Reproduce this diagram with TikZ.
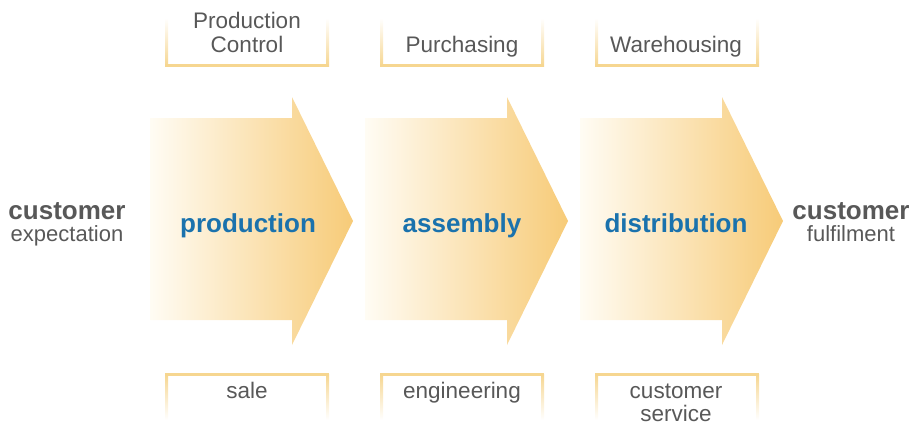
\documentclass[tikz,border=0pt]{standalone}
\usepackage{fontspec}
\setmainfont{Liberation Sans}
\begin{document}
\begin{tikzpicture}[x=1pt,y=-1pt,
  stage/.style={font=\fontsize{26}{28}\selectfont\bfseries, text=blueT, inner sep=0pt, anchor=base},
  dept/.style={font=\fontsize{22.5}{24}\selectfont, text=greyT, inner sep=0pt, anchor=base},
  endbold/.style={font=\fontsize{26}{28}\selectfont\bfseries, text=greyT, inner sep=0pt, anchor=base},
  endsub/.style={font=\fontsize{22}{24}\selectfont, text=greyT, inner sep=0pt, anchor=base}]
\definecolor{arrowR}{HTML}{F7CB78}
\definecolor{arrowL}{HTML}{FFFCF4}
\definecolor{brk}{HTML}{F6D690}
\definecolor{blueT}{HTML}{1A72AD}
\definecolor{greyT}{HTML}{585858}
\useasboundingbox (0,0) rectangle (921,424);
% arrows
\foreach \x in {150,365,580}{
  \shade[left color=arrowL, right color=arrowR]
    (\x,118) -- (\x+142,118) -- (\x+142,97) -- (\x+203,221) -- (\x+142,345)
    -- (\x+142,320) -- (\x,320) -- cycle;
}
% brackets
\foreach \x in {165,380,595}{
  % top, open upwards
  \shade[top color=white, bottom color=brk] (\x,18) rectangle (\x+3,66);
  \shade[top color=white, bottom color=brk] (\x+161,18) rectangle (\x+164,66);
  \fill[brk] (\x,64) rectangle (\x+164,67);
  % bottom, open downwards
  \shade[top color=brk, bottom color=white] (\x,374) rectangle (\x+3,420);
  \shade[top color=brk, bottom color=white] (\x+161,374) rectangle (\x+164,420);
  \fill[brk] (\x,373) rectangle (\x+164,376);
}
% stage labels
\node[stage] (production) at (248,232) {production};
\node[stage] (assembly) at (462,232) {assembly};
\node[stage] (distribution) at (676,232) {distribution};
% department labels
\node[dept] (prodctrl1) at (247,28) {Production};
\node[dept] (prodctrl2) at (247,52) {Control};
\node[dept] (purch) at (462,52) {Purchasing};
\node[dept] (wareh) at (676,52) {Warehousing};
\node[dept] (sale) at (247,398) {sale};
\node[dept] (eng) at (462,398) {engineering};
\node[dept] (custserv1) at (676,398) {customer};
\node[dept] (custserv2) at (676,421) {service};
% end labels
\node[endbold] (custL) at (67,219) {customer};
\node[endsub] (expect) at (67,241) {expectation};
\node[endbold] (custR) at (851,219) {customer};
\node[endsub] (fulfil) at (851,241) {fulfilment};
\end{tikzpicture}
\end{document}
